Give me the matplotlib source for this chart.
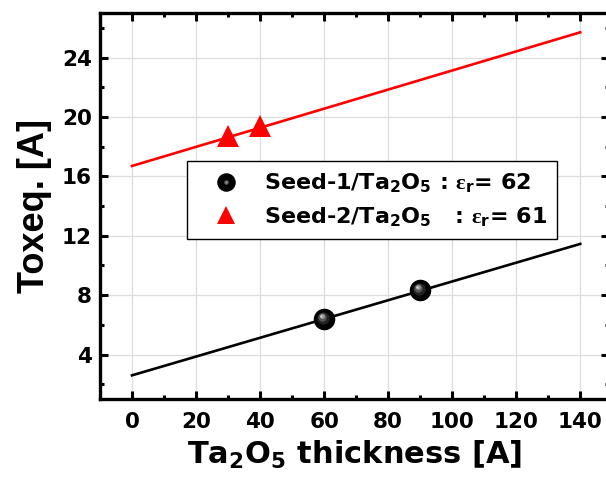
import matplotlib
matplotlib.use("Agg")
import matplotlib.pyplot as plt
from matplotlib.ticker import MultipleLocator
from matplotlib.legend_handler import HandlerTuple
from matplotlib.transforms import offset_copy

plt.rcParams['font.family'] = ['DejaVu Sans']
plt.rcParams['font.weight'] = 'bold'
plt.rcParams['mathtext.fontset'] = 'custom'
plt.rcParams['mathtext.rm'] = 'DejaVu Sans:bold'
plt.rcParams['mathtext.it'] = 'DejaVu Sans:bold'
plt.rcParams['mathtext.sf'] = 'Liberation Serif'

# measured points
seed1_x = [60, 90]
seed1_y = [6.4, 8.35]
seed2_x = [30, 40]
seed2_y = [18.7, 19.4]

# linear fits drawn across 0..140
fit_x = [0, 140]
fit1_y = [2.6, 11.45]
fit2_y = [16.7, 25.7]

label1 = r"Seed-1/Ta$_\mathrm{2}$O$_\mathrm{5}$ : $\mathsf{\varepsilon}_\mathrm{r}$= 62"
label2 = r"Seed-2/Ta$_\mathrm{2}$O$_\mathrm{5}$   : $\mathsf{\varepsilon}_\mathrm{r}$= 61"

fig = plt.figure(figsize=(6.06, 4.82), dpi=100)
ax = fig.add_axes([0.165, 0.172, 0.840, 0.801])

ax.plot(fit_x, fit1_y, color='black', lw=1.9, zorder=2)
ax.plot(fit_x, fit2_y, color='red', lw=1.9, zorder=2)

# shaded black spheres
ball, = ax.plot(seed1_x, seed1_y, 'o', color='black', ms=14.5, zorder=3)
shades = [(9, '#222222'), (6, '#555555'), (3.5, '#999999'), (1.8, '#cccccc')]
for i, (ms, c) in enumerate(shades):
    tr = offset_copy(ax.transData, fig=fig, x=-1.0 - 0.4 * i, y=1.0 + 0.4 * i, units='points')
    ax.plot(seed1_x, seed1_y, 'o', color=c, ms=ms, mew=0, transform=tr, zorder=4)

tri, = ax.plot(seed2_x, seed2_y, '^', color='red', ms=16, mew=0, zorder=3)

ax.set_xlim(-10, 149)
ax.set_ylim(1, 27)
ax.xaxis.set_major_locator(MultipleLocator(20))
ax.xaxis.set_minor_locator(MultipleLocator(10))
ax.yaxis.set_major_locator(MultipleLocator(4))
ax.yaxis.set_minor_locator(MultipleLocator(2))
ax.tick_params(which='both', direction='in', top=True, right=True, width=2.2, labelsize=15.5)
ax.tick_params(which='major', length=5.5)
ax.tick_params(axis='x', which='major', pad=9)
ax.tick_params(axis='y', which='major', pad=6)
ax.tick_params(which='minor', length=3)
for s in ax.spines.values():
    s.set_linewidth(2.4)
ax.grid(True, which='major', color='#dddddd', lw=0.9, zorder=0)
ax.set_axisbelow(True)

ax.set_xlabel(r"Ta$_\mathrm{2}$O$_\mathrm{5}$ thickness [A]", fontsize=22, fontweight='bold', labelpad=5)
ax.set_ylabel("Toxeq. [A]", fontsize=26, fontweight='bold', family='Liberation Sans', labelpad=7)

hl, = ax.plot([], [], 'o', color='#555555', ms=4, mew=0)
hl2, = ax.plot([], [], 'o', color='#999999', ms=1.8, mew=0)
leg = ax.legend([(ball, hl, hl2), tri], [label1, label2], handler_map={tuple: HandlerTuple(ndivide=1)},
                loc='upper left', bbox_to_anchor=(0.171, 0.6156), fontsize=16, frameon=True,
                fancybox=False, edgecolor='black', framealpha=1, handlelength=2.6,
                handletextpad=0.4, borderpad=0.45, labelspacing=0.45, borderaxespad=0,
                markerscale=0.85)
leg.get_frame().set_linewidth(1.0)

fig.savefig("out.png", dpi=100)
